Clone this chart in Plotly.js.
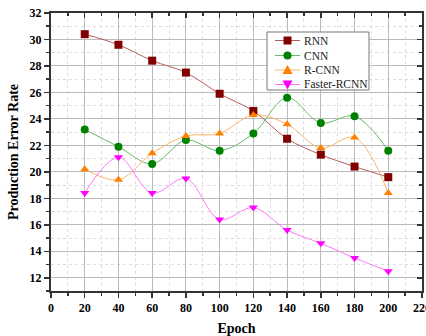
<!DOCTYPE html>
<html>
<head>
<meta charset="utf-8">
<script src="https://cdn.plot.ly/plotly-3.0.1.min.js"></script>
<style>html,body{margin:0;padding:0;background:#fff;}#chart{width:426px;height:336px;}</style>
</head>
<body>
<div id="chart"></div>
<script>
const epochs = [20, 40, 60, 80, 100, 120, 140, 160, 180, 200];
const rnn = [30.4, 29.6, 28.4, 27.5, 25.9, 24.6, 22.5, 21.3, 20.4, 19.6];
const cnn = [23.2, 21.9, 20.6, 22.4, 21.6, 22.9, 25.6, 23.7, 24.2, 21.6];
const rcnn = [20.2, 19.4, 21.4, 22.7, 22.9, 24.3, 23.6, 21.8, 22.6, 18.4];
const fasterRcnn = [18.4, 21.1, 18.4, 19.5, 16.4, 17.3, 15.6, 14.6, 13.5, 12.5];
const seriesNames = ['RNN', 'CNN', 'R-CNN', 'Faster-RCNN'];
const xTicks = [0, 20, 40, 60, 80, 100, 120, 140, 160, 180, 200, 220];
const yTicks = [12, 14, 16, 18, 20, 22, 24, 26, 28, 30, 32];

const serif = 'Liberation Serif, Times New Roman, serif';
const lineColors = ['#b85c5c', '#66bb66', '#ffb366', '#ff77ff'];
const markerColors = ['#800000', '#008000', '#ff8000', '#ff00ff'];
const symbols = ['square', 'circle', 'triangle-up', 'triangle-down'];
const seriesData = [rnn, cnn, rcnn, fasterRcnn];

const data = seriesData.map((y, i) => ({
  x: epochs, y: y, name: seriesNames[i], type: 'scatter', mode: 'lines+markers',
  showlegend: false,
  line: {color: lineColors[i], width: 1, shape: 'spline', smoothing: 1},
  marker: {color: markerColors[i], symbol: symbols[i], size: 8, line: {width: 0}}
}));
data.push({x: [0], y: [0], xaxis: 'x2', yaxis: 'y2', showlegend: false, mode: 'markers', marker: {opacity: 0}, hoverinfo: 'skip'});

// plot-area pixel frame used for the hand-drawn legend box
const M = {l: 51, r: 4, t: 13, b: 45};
const W = 426, H = 336;
const px = X => (X - M.l) / (W - M.l - M.r);
const py = Y => (H - M.b - Y) / (H - M.t - M.b);

const shapes = [];
const annotations = [];
shapes.push({type: 'rect', xref: 'paper', yref: 'paper', x0: px(267), x1: px(369), y0: py(32), y1: py(90),
  fillcolor: '#fff', line: {color: '#777', width: 1}, layer: 'above'});
const rowY = [40.5, 55.5, 70, 84.5];
seriesNames.forEach((name, i) => {
  const Y = rowY[i];
  shapes.push({type: 'line', xref: 'paper', yref: 'paper', x0: px(275), x1: px(300), y0: py(Y), y1: py(Y),
    line: {color: lineColors[i], width: 1}, layer: 'above'});
  const cx = 287.5, s = 4;
  let shp;
  if (symbols[i] === 'square') {
    shp = {type: 'rect', x0: px(cx - s), x1: px(cx + s), y0: py(Y - s), y1: py(Y + s)};
  } else if (symbols[i] === 'circle') {
    shp = {type: 'circle', x0: px(cx - s), x1: px(cx + s), y0: py(Y - s), y1: py(Y + s)};
  } else if (symbols[i] === 'triangle-up') {
    shp = {type: 'path', path: `M ${px(cx - 5)} ${py(Y + 4)} L ${px(cx + 5)} ${py(Y + 4)} L ${px(cx)} ${py(Y - 5)} Z`};
  } else {
    shp = {type: 'path', path: `M ${px(cx - 5)} ${py(Y - 4)} L ${px(cx + 5)} ${py(Y - 4)} L ${px(cx)} ${py(Y + 5)} Z`};
  }
  Object.assign(shp, {xref: 'paper', yref: 'paper', fillcolor: markerColors[i], line: {width: 0}, layer: 'above'});
  shapes.push(shp);
  annotations.push({xref: 'paper', yref: 'paper', x: px(302), y: py(Y), xanchor: 'left', yanchor: 'middle',
    text: name, showarrow: false, font: {family: serif, size: 11.5, color: '#222'}});
});

const layout = {
  width: W, height: H,
  margin: M,
  paper_bgcolor: '#fff', plot_bgcolor: '#fff',
  font: {family: serif, color: '#000'},
  showlegend: false,
  shapes: shapes, annotations: annotations,
  xaxis: {
    range: [0, 220], tickmode: 'array', tickvals: xTicks, ticklabeloverflow: 'allow',
    ticks: 'outside', ticklen: 5, tickwidth: 1.5, tickcolor: '#333',
    showline: true, linecolor: '#333', linewidth: 2,
    showgrid: true, gridcolor: '#bbb', gridwidth: 1, zeroline: false,
    tickfont: {family: serif, size: 12, weight: 'bold'},
    minor: {dtick: 10, tick0: 0, ticks: 'outside', ticklen: 3, tickcolor: '#333', showgrid: true, gridcolor: '#ddd', griddash: 'dot', gridwidth: 1},
    title: {text: '<b>Epoch</b>', font: {family: serif, size: 14}, standoff: 10}
  },
  yaxis: {
    range: [11, 32], tickmode: 'array', tickvals: yTicks,
    ticks: 'outside', ticklen: 5, tickwidth: 1.5, tickcolor: '#333',
    showline: true, linecolor: '#333', linewidth: 2,
    showgrid: true, gridcolor: '#bbb', gridwidth: 1, zeroline: false,
    tickfont: {family: serif, size: 12, weight: 'bold'},
    minor: {dtick: 1, tick0: 0, ticks: 'outside', ticklen: 3, tickcolor: '#333', showgrid: true, gridcolor: '#ddd', griddash: 'dot', gridwidth: 1},
    title: {text: '<b>Production Error Rate</b>', font: {family: serif, size: 14}, standoff: 8}
  },
  xaxis2: {
    overlaying: 'x', side: 'top', anchor: 'y2', range: [0, 220],
    tickmode: 'array', tickvals: xTicks,
    ticks: 'inside', ticklen: 5, tickwidth: 1.5, tickcolor: '#333', showticklabels: false,
    showline: true, linecolor: '#333', linewidth: 2, showgrid: false, zeroline: false,
    minor: {dtick: 10, tick0: 0, ticks: 'inside', ticklen: 3, tickcolor: '#333', showgrid: false}
  },
  yaxis2: {
    overlaying: 'y', side: 'right', anchor: 'x2', range: [11, 32],
    tickmode: 'array', tickvals: yTicks,
    ticks: 'inside', ticklen: 5, tickwidth: 1.5, tickcolor: '#333', showticklabels: false,
    showline: true, linecolor: '#333', linewidth: 2, showgrid: false, zeroline: false,
    minor: {dtick: 1, tick0: 0, ticks: 'inside', ticklen: 3, tickcolor: '#333', showgrid: false}
  }
};
Plotly.newPlot('chart', data, layout, {displayModeBar: false, staticPlot: true});
</script>
</body>
</html>
